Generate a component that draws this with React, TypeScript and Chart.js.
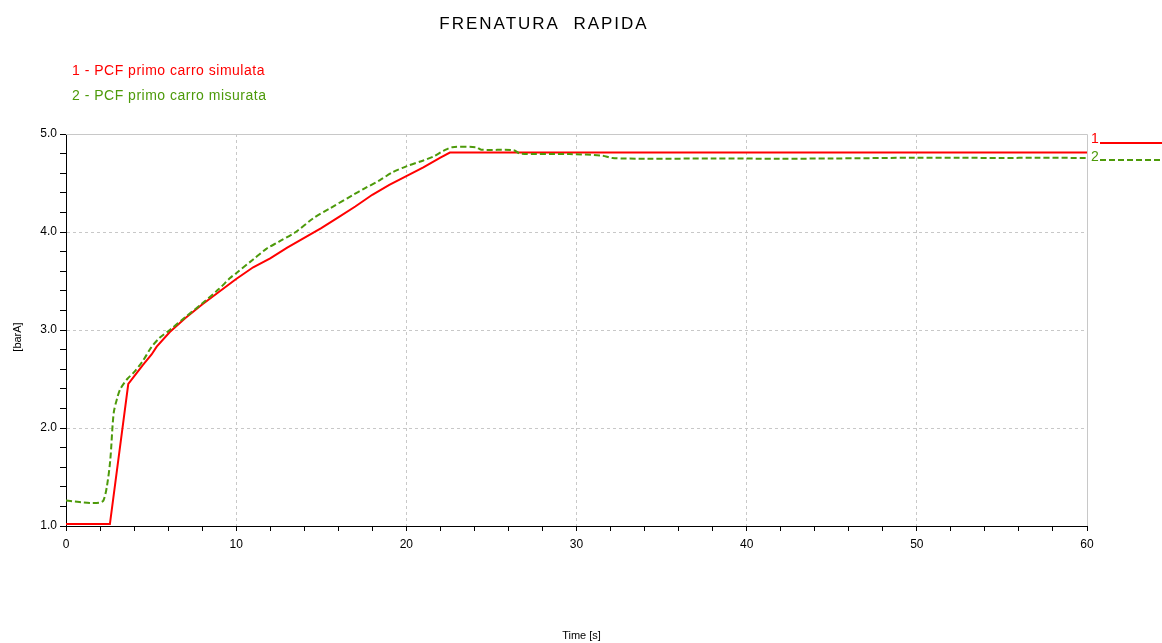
import React, { useEffect, useRef } from "react";
import { Chart, registerables } from "chart.js";

Chart.register(...registerables);

const chartTitle = "FRENATURA  RAPIDA";
const seriesNames = ["1 - PCF primo carro simulata", "2 - PCF primo carro misurata"];
const endLabels = ["1", "2"];
const xAxisTitle = "Time [s]";
const yAxisTitle = "[barA]";

const simTime = [0, 2.58, 3.66, 4.5, 5.03, 5.33, 6.1, 7, 8, 9, 10, 11, 12, 13, 14, 15, 16, 17, 18, 19, 20, 21, 22, 22.56, 60];
const simValues = [1.02, 1.02, 2.45, 2.64, 2.75, 2.83, 2.98, 3.12, 3.26, 3.39, 3.52, 3.64, 3.73, 3.84, 3.94, 4.04, 4.15, 4.26, 4.38, 4.48, 4.57, 4.66, 4.76, 4.81, 4.81];

const measTime = [0, 0.5, 1, 1.5, 2.0, 2.2, 2.4, 2.6, 2.8, 3.0, 3.2, 3.6, 4.0, 4.5, 5.0, 5.5, 6.1, 7, 8, 9, 9.64, 10, 11, 11.79, 12.5, 13.5, 14.53, 15.5, 16.88, 17.5, 18.45, 19.2, 20, 21, 21.58, 22.2, 22.7, 24.1, 24.4, 26.3, 26.7, 29.6, 31.5, 32.1, 34.1, 38, 42, 44.9, 50, 52.5, 55, 57, 60];
const measValues = [1.26, 1.25, 1.24, 1.235, 1.24, 1.26, 1.4, 1.67, 2.15, 2.3, 2.4, 2.5, 2.57, 2.68, 2.82, 2.92, 3.0, 3.13, 3.27, 3.42, 3.53, 3.58, 3.72, 3.83, 3.9, 4.0, 4.14, 4.24, 4.38, 4.44, 4.53, 4.61, 4.67, 4.73, 4.77, 4.83, 4.865, 4.865, 4.84, 4.835, 4.8, 4.795, 4.78, 4.755, 4.748, 4.75, 4.748, 4.75, 4.758, 4.758, 4.755, 4.758, 4.755];

const xMin = 0;
const xMax = 60;
const xMinorStep = 2;
const xMajorStep = 10;
const yMin = 1.0;
const yMax = 5.0;
const yMinorStep = 0.2;

const RED = "#ff0000";
const GREEN = "#4d9a0a";
const GRID = "#c8c8c8";
const FONT = "'Liberation Sans', Arial, sans-serif";

function isMultiple(v: number, step: number) {
  const r = v / step;
  return Math.abs(r - Math.round(r)) < 1e-6;
}

const decorPlugin = {
  id: "decor",
  beforeDatasetsDraw(chart: any) {
    const { ctx, chartArea } = chart;
    ctx.save();
    ctx.strokeStyle = GRID;
    ctx.lineWidth = 1;
    ctx.setLineDash([]);
    ctx.beginPath();
    ctx.moveTo(chartArea.left, chartArea.top + 0.5);
    ctx.lineTo(chartArea.right + 0.5, chartArea.top + 0.5);
    ctx.lineTo(chartArea.right + 0.5, chartArea.bottom);
    ctx.stroke();
    ctx.restore();
  },
  afterDraw(chart: any) {
    const { ctx, chartArea, width } = chart;
    ctx.save();
    // title
    ctx.fillStyle = "#000";
    ctx.font = `17px ${FONT}`;
    (ctx as any).letterSpacing = "2px";
    ctx.textAlign = "center";
    ctx.textBaseline = "alphabetic";
    ctx.fillText(chartTitle, 544, 29);
    // legend
    (ctx as any).letterSpacing = "0.5px";
    ctx.font = `14px ${FONT}`;
    ctx.textAlign = "left";
    ctx.fillStyle = RED;
    ctx.fillText(seriesNames[0], 72, 75);
    ctx.fillStyle = GREEN;
    ctx.fillText(seriesNames[1], 72, 100);
    (ctx as any).letterSpacing = "0px";
    // end labels
    const lx = chartArea.right + 4;
    ctx.font = `14px ${FONT}`;
    ctx.fillStyle = RED;
    ctx.fillText(endLabels[0], lx, chartArea.top + 9);
    ctx.fillStyle = GREEN;
    ctx.fillText(endLabels[1], lx, chartArea.top + 27);
    ctx.lineWidth = 2;
    ctx.strokeStyle = RED;
    ctx.beginPath();
    ctx.moveTo(lx + 9, chartArea.top + 9);
    ctx.lineTo(width, chartArea.top + 9);
    ctx.stroke();
    ctx.strokeStyle = GREEN;
    ctx.setLineDash([6, 3]);
    ctx.beginPath();
    ctx.moveTo(lx + 9, chartArea.top + 26);
    ctx.lineTo(width, chartArea.top + 26);
    ctx.stroke();
    ctx.setLineDash([]);
    // axis titles
    ctx.fillStyle = "#000";
    ctx.font = `11px ${FONT}`;
    ctx.textAlign = "center";
    ctx.fillText(xAxisTitle, (chartArea.left + chartArea.right) / 2 + 5, 639);
    ctx.translate(21, 337);
    ctx.rotate(-Math.PI / 2);
    ctx.fillText(yAxisTitle, 0, 0);
    ctx.restore();
  },
};

export default function App() {
  const canvasRef = useRef<HTMLCanvasElement | null>(null);

  useEffect(() => {
    const canvas = canvasRef.current;
    if (!canvas) return;
    const chart = new Chart(canvas, {
      type: "line",
      data: {
        datasets: [
          {
            label: seriesNames[0],
            data: simTime.map((t, i) => ({ x: t, y: simValues[i] })),
            borderColor: RED,
            borderWidth: 2,
            pointRadius: 0,
            tension: 0,
            fill: false,
            order: 2,
          },
          {
            label: seriesNames[1],
            data: measTime.map((t, i) => ({ x: t, y: measValues[i] })),
            borderColor: GREEN,
            borderWidth: 2,
            borderDash: [6, 3],
            pointRadius: 0,
            tension: 0.3,
            fill: false,
            order: 1,
          },
        ],
      },
      options: {
        animation: false,
        responsive: false,
        maintainAspectRatio: false,
        layout: { padding: { left: 0, top: 134, right: 75, bottom: 0 } },
        plugins: {
          legend: { display: false },
          title: { display: false },
          tooltip: { enabled: false },
        },
        scales: {
          x: {
            type: "linear",
            min: xMin,
            max: xMax,
            afterFit: (s: any) => {
              s.height = 117;
            },
            ticks: {
              stepSize: xMinorStep,
              autoSkip: false,
              maxRotation: 0,
              padding: 6,
              color: "#000",
              font: { family: FONT, size: 12 },
              callback: (v: any) => (isMultiple(Number(v), xMajorStep) ? String(v) : ""),
            },
            grid: {
              color: (c: any) =>
                c.tick && isMultiple(c.tick.value, xMajorStep) && c.tick.value > xMin && c.tick.value < xMax ? GRID : "rgba(0,0,0,0)",
              tickColor: "#000",
              tickLength: 5,
              lineWidth: 1,
            },
            border: { display: true, color: "#000", width: 1, dash: [3, 3] },
          },
          y: {
            type: "linear",
            min: yMin,
            max: yMax,
            afterFit: (s: any) => {
              s.width = 66;
            },
            ticks: {
              stepSize: yMinorStep,
              autoSkip: false,
              padding: 3,
              color: "#000",
              font: { family: FONT, size: 12 },
              callback: (v: any) => (isMultiple(Number(v), 1) ? Number(v).toFixed(1) : ""),
            },
            grid: {
              color: (c: any) =>
                c.tick && isMultiple(c.tick.value, 1) && c.tick.value > yMin ? GRID : "rgba(0,0,0,0)",
              tickColor: "#000",
              tickLength: 6,
              lineWidth: 1,
            },
            border: { display: true, color: "#000", width: 1, dash: [3, 3] },
          },
        },
      },
      plugins: [decorPlugin],
    } as any);
    return () => chart.destroy();
  }, []);

  return (
    <div style={{ position: "absolute", left: 0, top: 0, width: 1162, height: 643, background: "#fff" }}>
      <canvas ref={canvasRef} width={1162} height={643} style={{ display: "block" }} />
    </div>
  );
}
